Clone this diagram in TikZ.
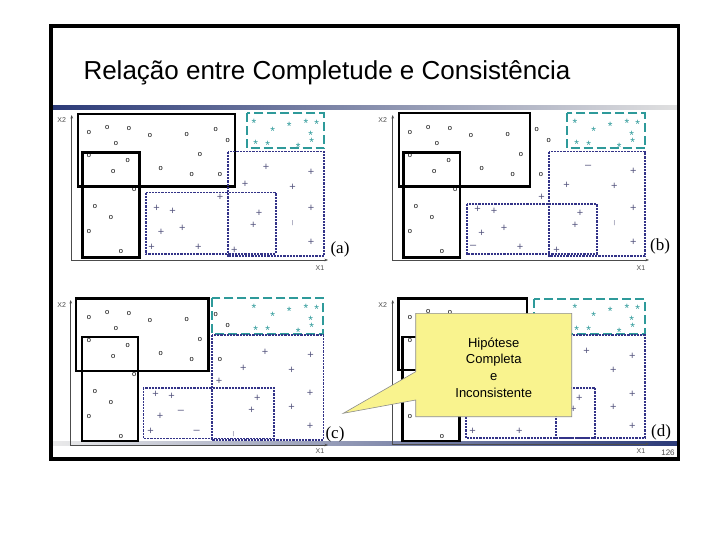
\documentclass[tikz,border=0pt]{standalone}
\usepackage{fontspec}
\setmainfont{Liberation Serif}
\setsansfont{Liberation Sans}
\usetikzlibrary{arrows.meta}
\definecolor{boxcyan}{HTML}{2E9A9A}
\definecolor{boxnavy}{HTML}{333388}
\definecolor{plusblue}{HTML}{55557F}
\definecolor{bandnavy}{HTML}{2B3A78}
\definecolor{notefill}{HTML}{F9F38E}

% marks shared by the panels (panel coordinates)
\newcommand\circlepts{89/132.7, 107.3/127.3, 129/129, 116/144, 150/135.7, 186.7/134.3,
  215.7/130, 227.7/141, 89/156, 127.7/160.7, 113.3/171.7, 160.7/168.3, 200/155,
  191.7/175, 220/175, 134.3/190, 95/206.7, 111/217.3, 89/231.7, 121/251.7}
\newcommand\starpts{254/121, 272.7/129.3, 289.3/124.3, 306/121, 316.7/122.3,
  310.7/133, 311.7/139.8, 255.7/142.7, 267.7/143.3, 298.3/145}

\begin{document}
\begin{tikzpicture}[
  x=1pt, y=-1pt,
  solidbox/.style={draw=black, line width=2.4pt},
  cyanbox/.style={draw=boxcyan, line width=2.2pt, dash pattern=on 9pt off 4pt},
  navybox/.style={draw=boxnavy, line width=1.6pt, dash pattern=on 2.2pt off 1pt},
  axis/.style={draw=black!70, line width=0.6pt, {Stealth[length=3.5pt,width=2.6pt]}-{Stealth[length=3.5pt,width=2.6pt]}},
  axlabel/.style={font=\sffamily\fontsize{7}{7}\selectfont, text=black!70, inner sep=0pt},
  omark/.style={font=\sffamily\fontsize{7.5}{7.5}\selectfont, inner sep=0pt},
  smark/.style={text=boxcyan, font=\sffamily\fontsize{12}{12}\selectfont, inner sep=0pt, text height=8.6pt, text depth=-4.9pt, yshift=-2pt},
  pmark/.style={text=plusblue, font=\sffamily\fontsize{11}{11}\selectfont, inner sep=0pt},
  tickmark/.style={text=plusblue, font=\sffamily\fontsize{5.5}{5.5}\selectfont, inner sep=0pt},
  tag/.style={font=\fontsize{17}{17}\selectfont, inner sep=0pt},
  notebox/.style={fill=notefill, draw=black!45, line width=0.6pt},
  notetext/.style={align=center, font=\sffamily\fontsize{13}{16.7}\selectfont, inner sep=0pt},
]
  \useasboundingbox (0,0) rectangle (720,540);
  \fill[white] (0,0) rectangle (720,540);

  % Title and bands
  \node[font=\sffamily\fontsize{26}{30}\selectfont, anchor=base west, inner sep=0pt] (title) at (83.3,80) {Relação entre Completude e Consistência};
  \shade[left color=bandnavy, middle color=black!40, right color=black!12] (51,105.5) rectangle (678,109.5);
  \shade[left color=black!8, middle color=black!30, right color=bandnavy] (51,441) rectangle (678,445);

  % Panel (a)
  \begin{scope}
    \draw[axis] (71.7,115) |- (328,260);
    \node[axlabel] (a-x2) at (61.7,120) {X2};
    \node[axlabel] (a-x1) at (320,268) {X1};
    \foreach \x/\y [count=\i] in \circlepts \node[omark] (a-o\i) at (\x,\y) {o};
    \foreach \x/\y [count=\i] in \starpts \node[smark] (a-s\i) at (\x,\y) {*};
    \foreach \x/\y [count=\i] in {266/167.3, 311/172.3, 245/184, 292.7/187.3, 220/197.3,
      156.7/208.3, 172.7/211.7, 259/213.3, 311/208.3, 161/232.7, 182.3/228.3,
      253.3/225.7, 311/242.3, 151.7/247.3, 198.3/247.3, 234.3/250}
      \node[pmark] (a-p\i) at (\x,\y) {+};
    \node[tickmark] (a-t) at (292.7,222.7) {|};
    \draw[solidbox] (77.7,114) rectangle (235,186.7);
    \draw[solidbox] (82.3,152.7) rectangle (139.3,257.3);
    \draw[cyanbox] (246.7,113.3) rectangle (324,148.3);
    \draw[navybox] (227.7,151.7) rectangle (324,256);
    \draw[navybox] (145.7,192.7) rectangle (275.7,254);
    \node[tag] (a-tag) at (340,249) {(a)};
  \end{scope}

  % Panel (b)
  \begin{scope}[shift={(321,0)}]
    \draw[axis] (71.7,115) |- (328,260);
    \node[axlabel] (b-x2) at (61.7,120) {X2};
    \node[axlabel] (b-x1) at (320,268) {X1};
    \foreach \x/\y [count=\i] in \circlepts \node[omark] (b-o\i) at (\x,\y) {o};
    \foreach \x/\y [count=\i] in \starpts \node[smark] (b-s\i) at (\x,\y) {*};
    \foreach \x/\y [count=\i] in {312.3/171.7, 245.7/185, 293.3/186.7, 220.7/197.3,
      156.7/209, 173/211.7, 259/213.3, 312.3/208.3, 160.7/233.3, 183/228.3,
      254/225.7, 312.3/242.3, 199/247.3, 235.7/250}
      \node[pmark] (b-p\i) at (\x,\y) {+};
    \node[pmark] (b-m1) at (267.3,166.7) {–};
    \node[pmark] (b-m2) at (152.3,247.3) {–};
    \node[tickmark] (b-t) at (293.3,223.3) {|};
    \draw[solidbox] (78,113.3) rectangle (209,186.7);
    \draw[solidbox] (82.3,152.7) rectangle (139,257.3);
    \draw[cyanbox] (245.7,113.3) rectangle (324,148.3);
    \draw[navybox] (228,151.7) rectangle (324,256);
    \draw[navybox] (145.7,204.3) rectangle (275.7,254);
    \node[tag] (b-tag) at (339,246) {(b)};
  \end{scope}

  % Panel (c)
  \begin{scope}[shift={(0,185)}]
    \draw[axis] (70.7,115) |- (328,260);
    \node[axlabel] (c-x2) at (61.7,120) {X2};
    \node[axlabel] (c-x1) at (320,266) {X1};
    \foreach \x/\y [count=\i] in \circlepts \node[omark] (c-o\i) at (\x,\y) {o};
    \foreach \x/\y [count=\i] in \starpts \node[smark] (c-s\i) at (\x,\y) {*};
    \foreach \x/\y [count=\i] in {265/167.3, 310.7/170.7, 243.3/183.3, 291.7/185.7,
      219/196, 155.7/209, 171.7/211, 257.3/213.3, 310/208.3, 160/231.7,
      251.7/225, 291.7/222.3, 310/241.7, 150.7/246}
      \node[pmark] (c-p\i) at (\x,\y) {+};
    \node[pmark] (c-m1) at (181,227.3) {–};
    \node[pmark] (c-m2) at (196.7,247.3) {–};
    \node[tickmark] (c-t) at (233.3,249) {|};
    \draw[solidbox] (75.7,113.3) rectangle (208.3,186);
    \draw[solidbox] (81.7,151.7) rectangle (137.7,256);
    \draw[cyanbox] (211.7,113.3) rectangle (323.3,149);
    \draw[navybox] (211.7,150) rectangle (323.3,255);
    \draw[navybox] (143.3,202.7) rectangle (274,253.3);
    \node[tag] (c-tag) at (335,249) {(c)};
  \end{scope}

  % Panel (d), partly under the callout
  \begin{scope}[shift={(321,185)}]
    \draw[axis] (71.7,115) |- (328,259);
    \node[axlabel] (d-x2) at (61.7,120) {X2};
    \node[axlabel] (d-x1) at (320,266) {X1};
    \foreach \x/\y [count=\i] in {89/132.7, 107.3/126.3, 129/127.5, 89/156, 89/231.7, 121/251.7}
      \node[omark] (d-o\i) at (\x,\y) {o};
    \foreach \x/\y [count=\i] in \starpts \node[smark] (d-s\i) at (\x,\y) {*};
    \foreach \x/\y [count=\i] in {265.7/166.7, 311.3/171, 292.3/185.7, 311.3/209,
      258.3/213.3, 252.3/224.3, 292.3/222.3, 311.3/241.7, 151.7/246.7, 198.3/246.7}
      \node[pmark] (d-p\i) at (\x,\y) {+};
    \draw[solidbox] (77.3,113.3) rectangle (205.7,185);
    \draw[solidbox] (81.3,151.7) rectangle (138.3,256);
    \draw[cyanbox] (213,114) rectangle (324,149);
    \draw[navybox] (235,150) rectangle (324,253);
    \draw[navybox] (144.7,202.7) rectangle (274,253);
    \node[tag] (d-tag) at (340,247) {(d)};
  \end{scope}

  % Callout
  \coordinate (tip) at (343.3,413.3);
  \filldraw[notebox] (415.7,313.3) -| (571.7,416.7) -| (415.7,400) -- (tip) -- (415.7,371.7) -- cycle;
  \node[notetext] (note) at (493.7,367.5) {Hipótese\\Completa\\e\\Inconsistente};

  % Slide number and frame
  \node[axlabel, font=\sffamily\fontsize{8}{8}\selectfont] (num) at (668,453) {126};
  \draw[line width=3.4pt] (51,26) rectangle (678.3,459);
\end{tikzpicture}
\end{document}
